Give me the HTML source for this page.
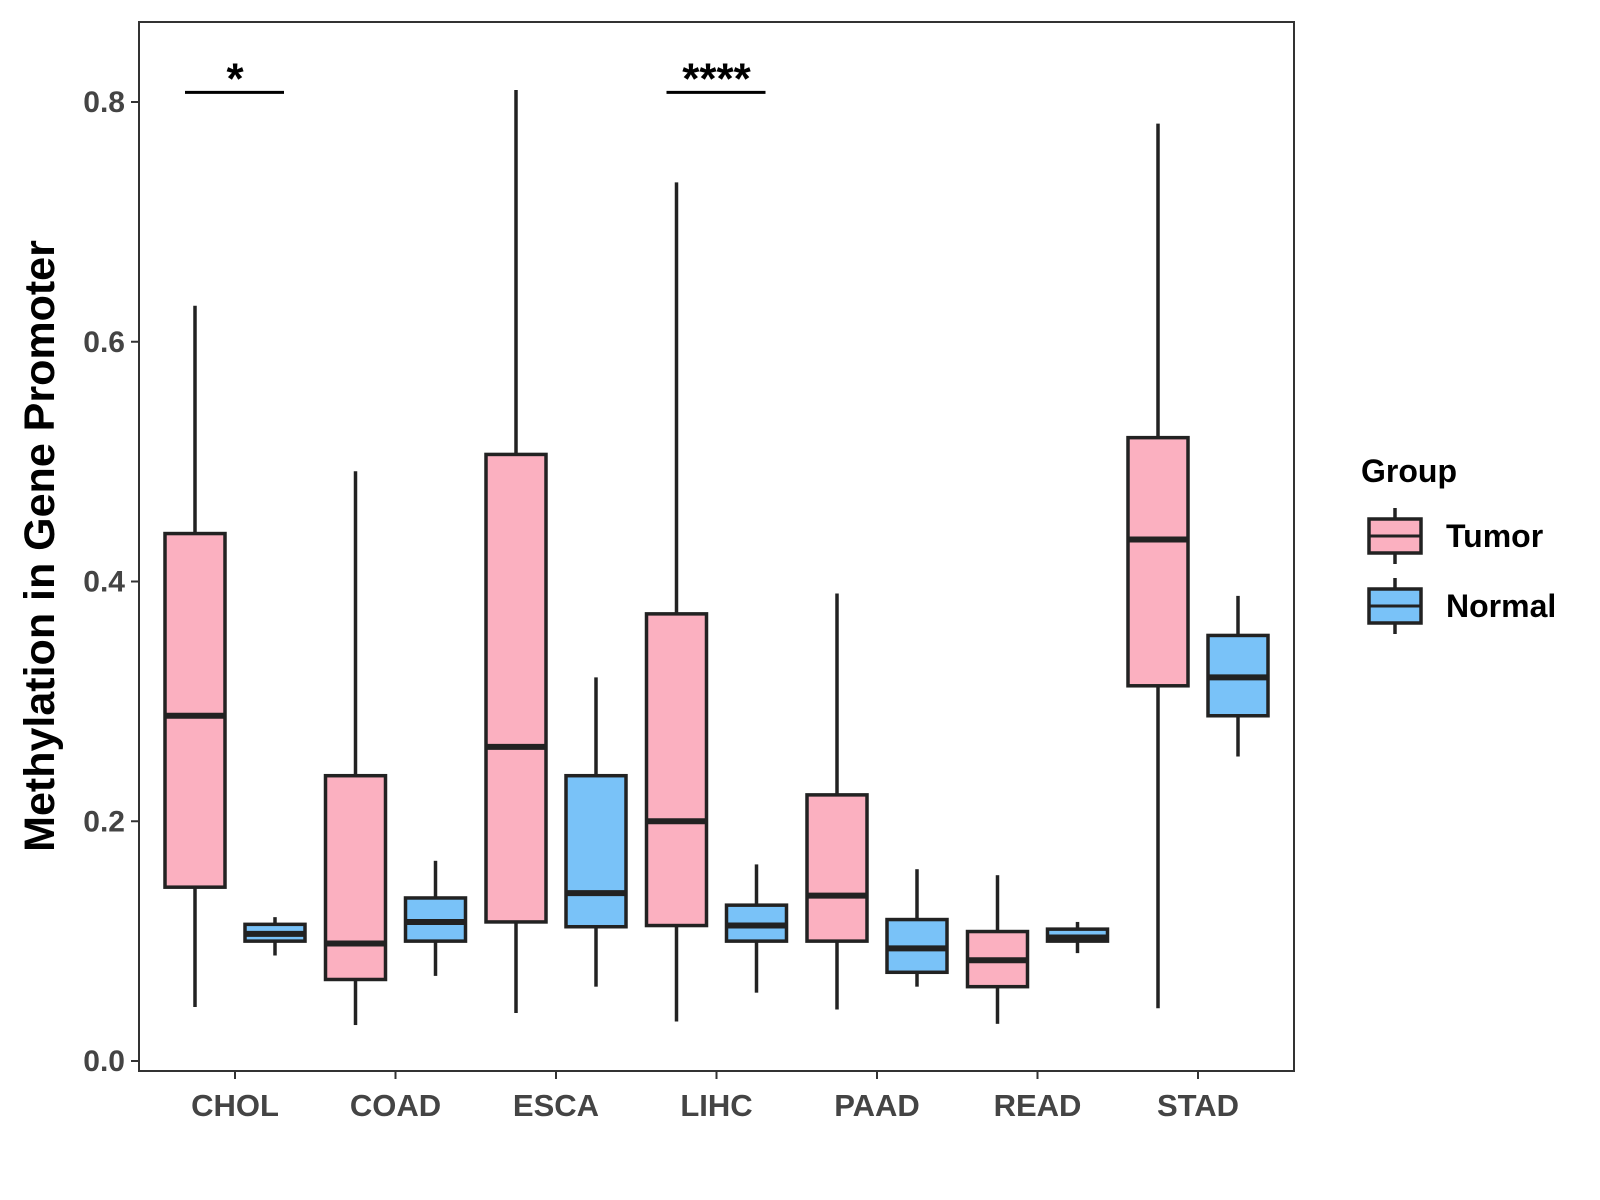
<!DOCTYPE html>
<html><head><meta charset="utf-8"><style>
body{margin:0;background:#fff;}
svg{display:block;font-family:"Liberation Sans",Arial,sans-serif;font-weight:bold;}
</style></head><body>
<svg id="chart" width="1600" height="1200">
</svg>
<script>
const categories=["CHOL","COAD","ESCA","LIHC","PAAD","READ","STAD"];
const tumorLow=[0.045,0.030,0.040,0.033,0.043,0.031,0.044];
const tumorQ1=[0.145,0.068,0.116,0.113,0.100,0.062,0.313];
const tumorMed=[0.288,0.098,0.262,0.200,0.138,0.084,0.435];
const tumorQ3=[0.440,0.238,0.506,0.373,0.222,0.108,0.520];
const tumorHigh=[0.630,0.492,0.810,0.733,0.390,0.155,0.782];
const normalLow=[0.088,0.071,0.062,0.057,0.062,0.090,0.254];
const normalQ1=[0.100,0.100,0.112,0.100,0.074,0.100,0.288];
const normalMed=[0.106,0.116,0.140,0.113,0.094,0.103,0.320];
const normalQ3=[0.114,0.136,0.238,0.130,0.118,0.110,0.355];
const normalHigh=[0.120,0.167,0.320,0.164,0.160,0.116,0.388];
const yTicks=[0,0.2,0.4,0.6,0.8];
const yTickLabels=["0.0","0.2","0.4","0.6","0.8"];
const sigCats=["CHOL","LIHC"];
const sigLabels=["*","****"];

const NS="http://www.w3.org/2000/svg";
const svg=document.getElementById('chart');
const P={l:139,t:22,r:1294,b:1071};
const y=v=>1061-v*(1061-102)/0.8;
const x=i=>235+i*160.5;
function mk(tag,attrs,parent){const e=document.createElementNS(NS,tag);for(const k in attrs)e.setAttribute(k,attrs[k]);(parent||svg).appendChild(e);return e;}

const panel=mk('rect',{x:P.l,y:P.t,width:P.r-P.l,height:P.b-P.t,fill:'none',stroke:'#333','stroke-width':2});



yTicks.forEach((v,i)=>{
  const g=mk('g',{});
  
  
  mk('line',{x1:P.l-8,x2:P.l,y1:y(v),y2:y(v),stroke:'#333','stroke-width':2},g);
  const t=mk('text',{x:P.l-14,y:y(v)+10,'text-anchor':'end','font-size':30,fill:'#444'},g);
  t.textContent=yTickLabels[i];
});
categories.forEach((c,i)=>{
  const g=mk('g',{});
  
  
  mk('line',{x1:x(i),x2:x(i),y1:P.b,y2:P.b+8,stroke:'#333','stroke-width':2},g);
  const t=mk('text',{x:x(i),y:P.b+45,'text-anchor':'middle','font-size':31,fill:'#444'},g);
  t.textContent=c;
});
const yt=mk('text',{x:54,y:546,'text-anchor':'middle','font-size':43,fill:'#000',transform:'rotate(-90 54 546)'});
yt.textContent='Methylation in Gene Promoter';



function box(cx,lo,q1,md,q3,hi,fill,name){
  const g=mk('g',{});
  
  
  const w=30;
  mk('line',{x1:cx,x2:cx,y1:y(hi),y2:y(q3),stroke:'#222','stroke-width':3.5},g);
  mk('line',{x1:cx,x2:cx,y1:y(q1),y2:y(lo),stroke:'#222','stroke-width':3.5},g);
  mk('rect',{x:cx-w,y:y(q3),width:2*w,height:y(q1)-y(q3),fill:fill,stroke:'#222','stroke-width':3.5},g);
  mk('line',{x1:cx-w,x2:cx+w,y1:y(md),y2:y(md),stroke:'#222','stroke-width':6},g);
}
categories.forEach((c,i)=>{
  box(x(i)-40,tumorLow[i],tumorQ1[i],tumorMed[i],tumorQ3[i],tumorHigh[i],'#FBB0C0','box-tumor-'+c.toLowerCase());
  box(x(i)+40,normalLow[i],normalQ1[i],normalMed[i],normalQ3[i],normalHigh[i],'#79C2F8','box-normal-'+c.toLowerCase());
});
sigCats.forEach((c,k)=>{
  const i=categories.indexOf(c);
  const g=mk('g',{});
  
  
  mk('line',{x1:x(i)-50,x2:x(i)+49,y1:y(0.808),y2:y(0.808),stroke:'#000','stroke-width':3},g);
  const t=mk('text',{x:x(i),y:y(0.808)+1,'text-anchor':'middle','font-size':44,fill:'#000'},g);
  t.textContent=sigLabels[k];
});
// legend
const lg=mk('g',{});


const lt=mk('text',{x:1361,y:482,'font-size':32,fill:'#000'},lg);
lt.textContent='Group';
[['Tumor','#FBB0C0',536],['Normal','#79C2F8',606]].forEach(([n,f,cy])=>{
  const g=mk('g',{},lg);
  
  
  mk('line',{x1:1395,x2:1395,y1:cy-28,y2:cy+28,stroke:'#222','stroke-width':3.5},g);
  mk('rect',{x:1369,y:cy-17,width:52,height:34,fill:f,stroke:'#222','stroke-width':3.5},g);
  mk('line',{x1:1369,x2:1421,y1:cy,y2:cy,stroke:'#222','stroke-width':3},g);
  const t=mk('text',{x:1446,y:cy+11,'font-size':32,fill:'#000'},g);
  t.textContent=n;
});
</script>
</body></html>
